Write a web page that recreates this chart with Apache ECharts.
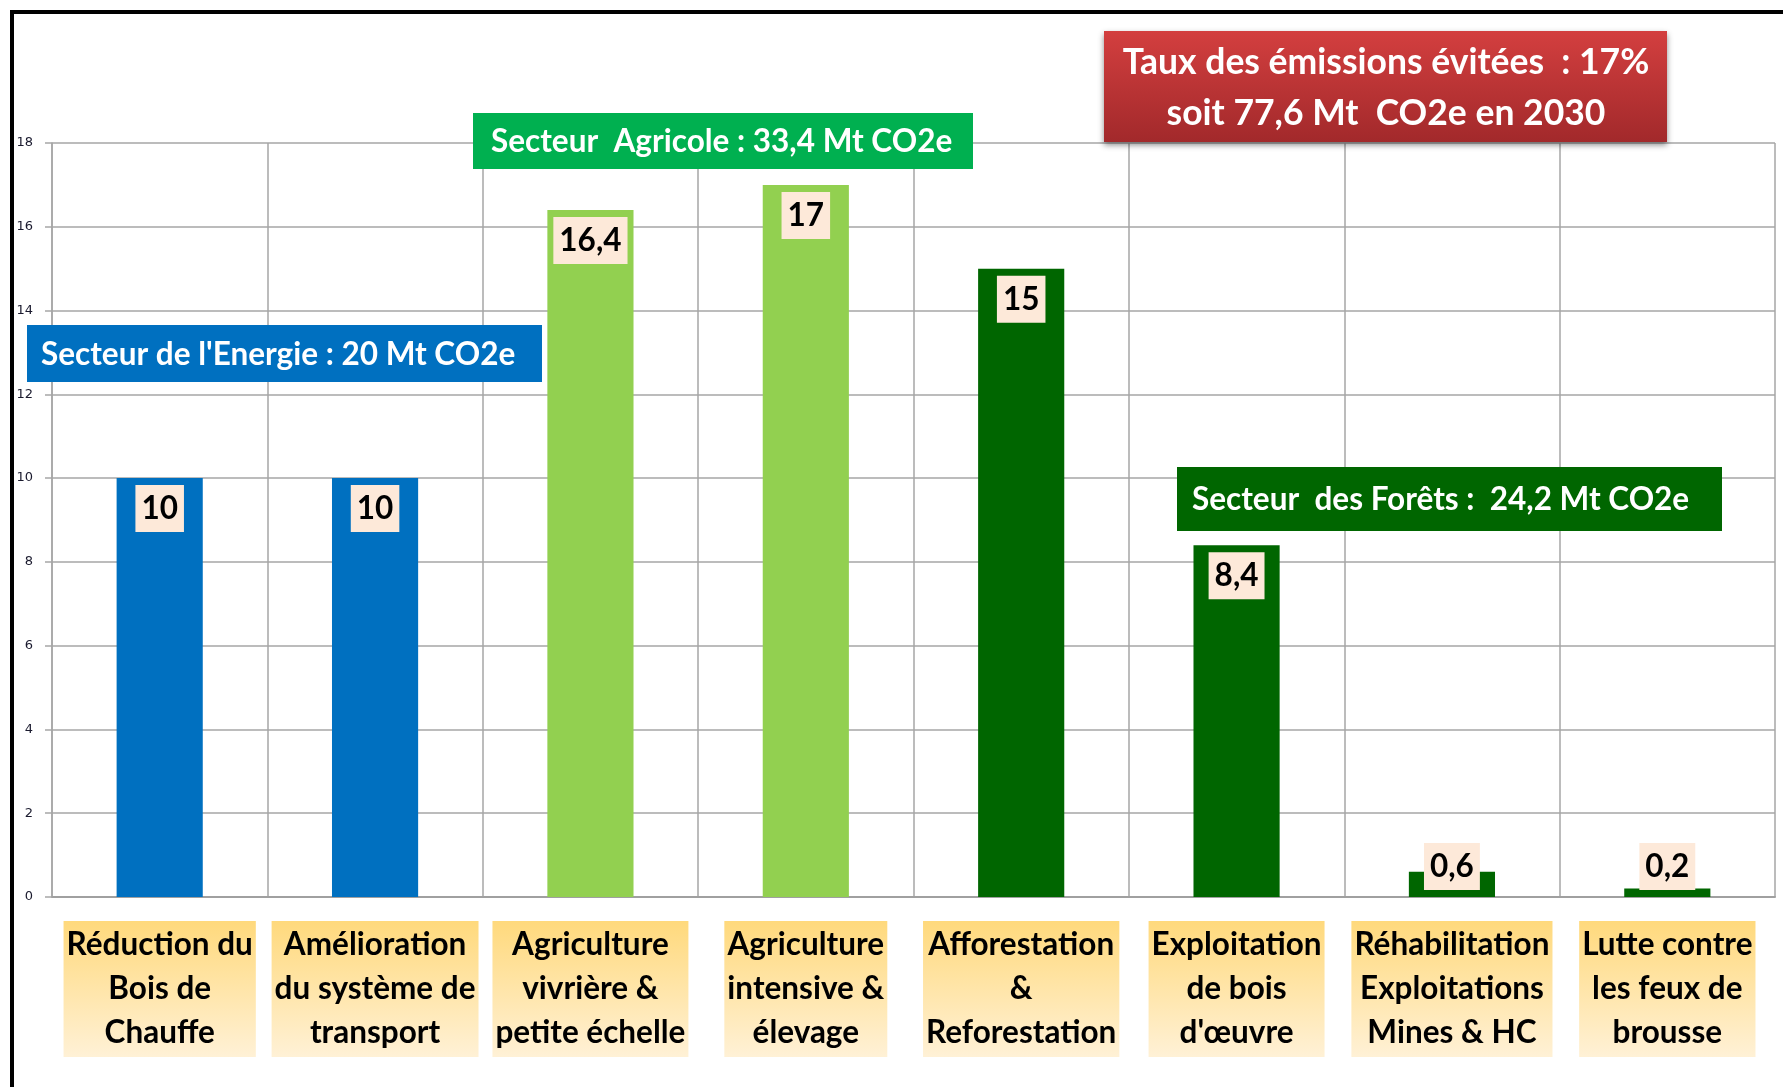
<!DOCTYPE html>
<html>
<head>
<meta charset="utf-8">
<script src="https://cdn.jsdelivr.net/npm/echarts@6/dist/echarts.min.js"></script>
<style>
html,body{margin:0;padding:0;background:#fff;}
#c{width:1783px;height:1087px;}
</style>
</head>
<body>
<div id="c"></div>
<script>
// ---- data ----
const categories = [
  "Réduction du\nBois de\nChauffe",
  "Amélioration\ndu système de\ntransport",
  "Agriculture\nvivrière &\npetite échelle",
  "Agriculture\nintensive &\nélevage",
  "Afforestation\n&\nReforestation",
  "Exploitation\nde bois\nd'œuvre",
  "Réhabilitation\nExploitations\nMines & HC",
  "Lutte contre\nles feux de\nbrousse"
];
const values = [10, 10, 16.4, 17, 15, 8.4, 0.6, 0.2];
const sectors = ["energie", "energie", "agri", "agri", "forets", "forets", "forets", "forets"];
const yTicks = { min: 0, max: 18, interval: 2 };
const sectorTexts = {
  energie: "Secteur de l'Energie : 20 Mt CO2e",
  agri: "Secteur  Agricole : 33,4 Mt CO2e",
  forets: "Secteur  des Forêts :  24,2 Mt CO2e"
};
const totalText = "Taux des émissions évitées  : 17%\nsoit 77,6 Mt  CO2e en 2030";

// ---- styles ----
const sectorColors = { energie: "#0070C0", agri: "#92D050", forets: "#006600" };
const boxColors = { energie: "#0070C0", agri: "#00B050", forets: "#006600" };
const FONT = "Lato";

const chart = echarts.init(document.getElementById('c'), null, { renderer: 'canvas' });

function fmt(v) { return String(v).replace('.', ','); }

const seriesData = values.map((v, i) => ({
  value: v,
  itemStyle: { color: sectorColors[sectors[i]] },
  label: v < 1 ? { position: 'insideBottom', distance: 7 } : undefined
}));

function sectorBox(key, x, y, w, h, textOffset) {
  return {
    type: 'group',
    children: [
      { type: 'rect', shape: { x: x, y: y, width: w, height: h }, style: { fill: boxColors[key] }, z: 10 },
      { type: 'text', x: x + textOffset, y: y + h / 2 + 1, z: 11,
        style: { text: sectorTexts[key], fill: '#fff', font: 'bold 31.5px ' + FONT, textAlign: 'left', textVerticalAlign: 'middle' } }
    ]
  };
}

const option = {
  backgroundColor: '#fff',
  animation: false,
  grid: { left: 52, right: 8, top: 143, bottom: 190, containLabel: false },
  xAxis: {
    type: 'category',
    data: categories,
    axisLine: { show: true, lineStyle: { color: '#A0A0A0', width: 2 } },
    axisTick: { show: false },
    splitLine: { show: true, lineStyle: { color: '#A6A6A6', width: 1.5 } },
    axisLabel: {
      interval: 0,
      margin: 24,
      color: '#000',
      fontFamily: FONT,
      fontWeight: 'bold',
      fontSize: 31.5,
      lineHeight: 44,
      padding: [2, 3, 2, 3],
      backgroundColor: new echarts.graphic.LinearGradient(0, 0, 0, 1, [
        { offset: 0, color: '#FFD97C' },
        { offset: 1, color: '#FFF1D6' }
      ])
    }
  },
  yAxis: {
    type: 'value',
    min: yTicks.min, max: yTicks.max, interval: yTicks.interval,
    axisLine: { show: true, lineStyle: { color: '#A6A6A6', width: 1.5 } },
    axisTick: { show: true, length: 7, lineStyle: { color: '#A6A6A6', width: 1.5 } },
    splitLine: { show: true, lineStyle: { color: '#A6A6A6', width: 1.5 } },
    axisLabel: { margin: 19, color: '#1a1a2e', fontFamily: 'DejaVu Sans', fontSize: 13 }
  },
  series: [{
    type: 'bar',
    data: seriesData,
    barWidth: '40%',
    label: {
      show: true,
      position: 'insideTop',
      distance: 7,
      formatter: p => fmt(p.value),
      color: '#000',
      fontFamily: FONT,
      fontWeight: 'bold',
      fontSize: 31.5,
      lineHeight: 36,
      backgroundColor: '#FDE9D9',
      padding: [6, 6, 5, 6]
    }
  }],
  graphic: [
    { type: 'rect', shape: { x: 12, y: 12, width: 1900, height: 1200 }, style: { fill: 'none', stroke: '#000', lineWidth: 4 }, z: 20 },
    {
      type: 'group',
      children: [
        { type: 'rect', shape: { x: 1104, y: 31, width: 563, height: 111 }, z: 10,
          style: {
            fill: new echarts.graphic.LinearGradient(0, 0, 0, 1, [
              { offset: 0, color: '#D33F3F' },
              { offset: 1, color: '#A2292B' }
            ]),
            shadowBlur: 6, shadowColor: 'rgba(0,0,0,0.45)', shadowOffsetY: 3
          } },
        { type: 'text', x: 1386, y: 88, z: 11,
          style: { text: totalText, fill: '#fff', font: 'bold 35.5px ' + FONT, lineHeight: 51, textAlign: 'center', textVerticalAlign: 'middle' } }
      ]
    },
    sectorBox('agri', 473, 113, 500, 56, 18),
    sectorBox('energie', 27, 325, 515, 57, 14),
    sectorBox('forets', 1177, 467, 545, 64, 15)
  ]
};
chart.setOption(option);
</script>
</body>
</html>
